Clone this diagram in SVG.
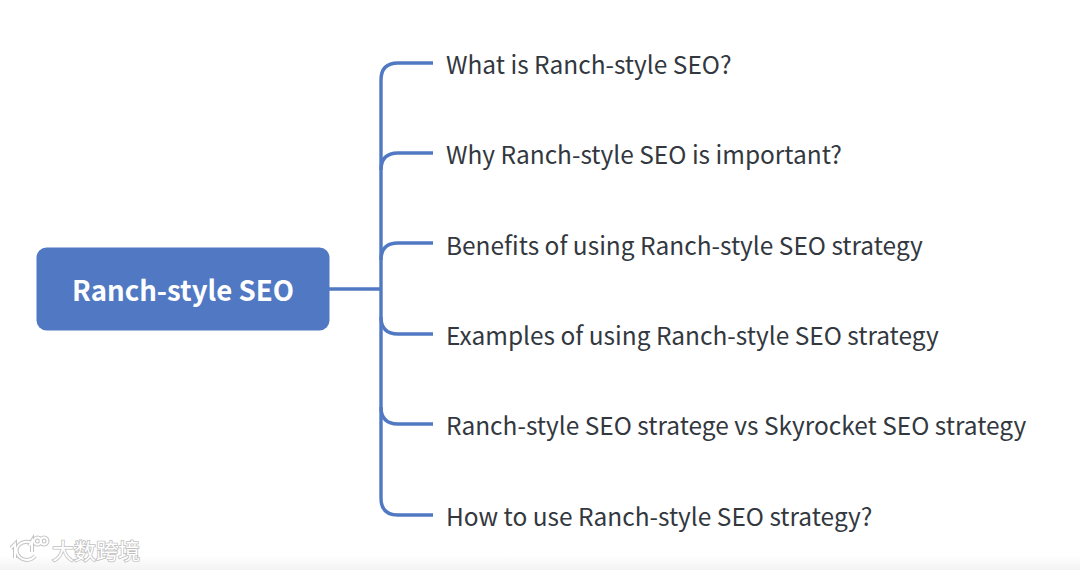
<svg xmlns="http://www.w3.org/2000/svg" width="1080" height="570" viewBox="0 0 1080 570">
<style>
.t{font-family:"Noto Sans CJK SC","Noto Sans",sans-serif;font-size:24.46px;fill:#33383f}
.c{fill:none;stroke:#5179c3;stroke-width:3.4}
.w{font-family:"Noto Sans CJK SC",sans-serif;font-size:22px;fill:#fff;stroke:#c0c0c0;stroke-width:1.6;paint-order:stroke}
.wl{fill:none;stroke:#c4c4c4;stroke-width:4}
.wi{fill:none;stroke:#fff;stroke-width:2}
</style>
<defs><linearGradient id="g" x1="0" y1="0" x2="0" y2="1"><stop offset="0" stop-color="#fff"/><stop offset="1" stop-color="#f3f3f3"/></linearGradient></defs>
<rect width="1080" height="570" fill="#fff"/>
<rect y="555" width="1080" height="15" fill="url(#g)"/>
<g id="connectors">
<path class="c" d="M329 289H381"/>
<path class="c" d="M433 63H398Q381 63 381 80V498Q381 515 398 515H433"/>
<path class="c" d="M433 153H398Q381 153 381 170"/>
<path class="c" d="M433 243H398Q381 243 381 260"/>
<path class="c" d="M433 334H398Q381 334 381 317"/>
<path class="c" d="M433 424H398Q381 424 381 407"/>
</g>
<g id="root"><rect x="36.500" y="247.500" width="293" height="83" rx="10" fill="#5179c3"/>
<text x="183" y="301" text-anchor="middle" style="font-family:'Noto Sans CJK SC','Noto Sans',sans-serif;font-size:27.6px;font-weight:700;fill:#fff">Ranch-style SEO</text></g>
<g id="n1"><text class="t" x="446" y="73.500">What is Ranch-style SEO?</text></g>
<g id="n2"><text class="t" x="446" y="164">Why Ranch-style SEO is important?</text></g>
<g id="n3"><text class="t" x="446" y="254.500">Benefits of using Ranch-style SEO strategy</text></g>
<g id="n4"><text class="t" x="446" y="344.500">Examples of using Ranch-style SEO strategy</text></g>
<g id="n5"><text class="t" x="446" y="435">Ranch-style SEO stratege vs Skyrocket SEO strategy</text></g>
<g id="n6"><text class="t" x="446" y="525.500">How to use Ranch-style SEO strategy?</text></g>
<g id="watermark">
<path class="wl" d="M11 548L15 544V558M30 542C20 540 15 548 17 553C20 561 30 562 35 556M29 546L32 541V552"/>
<circle class="wl" cx="37.500" cy="541" r="3.500"/><circle class="wl" cx="44" cy="541" r="3.500"/>
<path class="wi" d="M11 548L15 544V558M30 542C20 540 15 548 17 553C20 561 30 562 35 556M29 546L32 541V552"/>
<circle class="wi" cx="37.500" cy="541" r="3.500"/><circle class="wi" cx="44" cy="541" r="3.500"/>
<text class="w" x="52" y="558.500">大数跨境</text>
</g>
</svg>
